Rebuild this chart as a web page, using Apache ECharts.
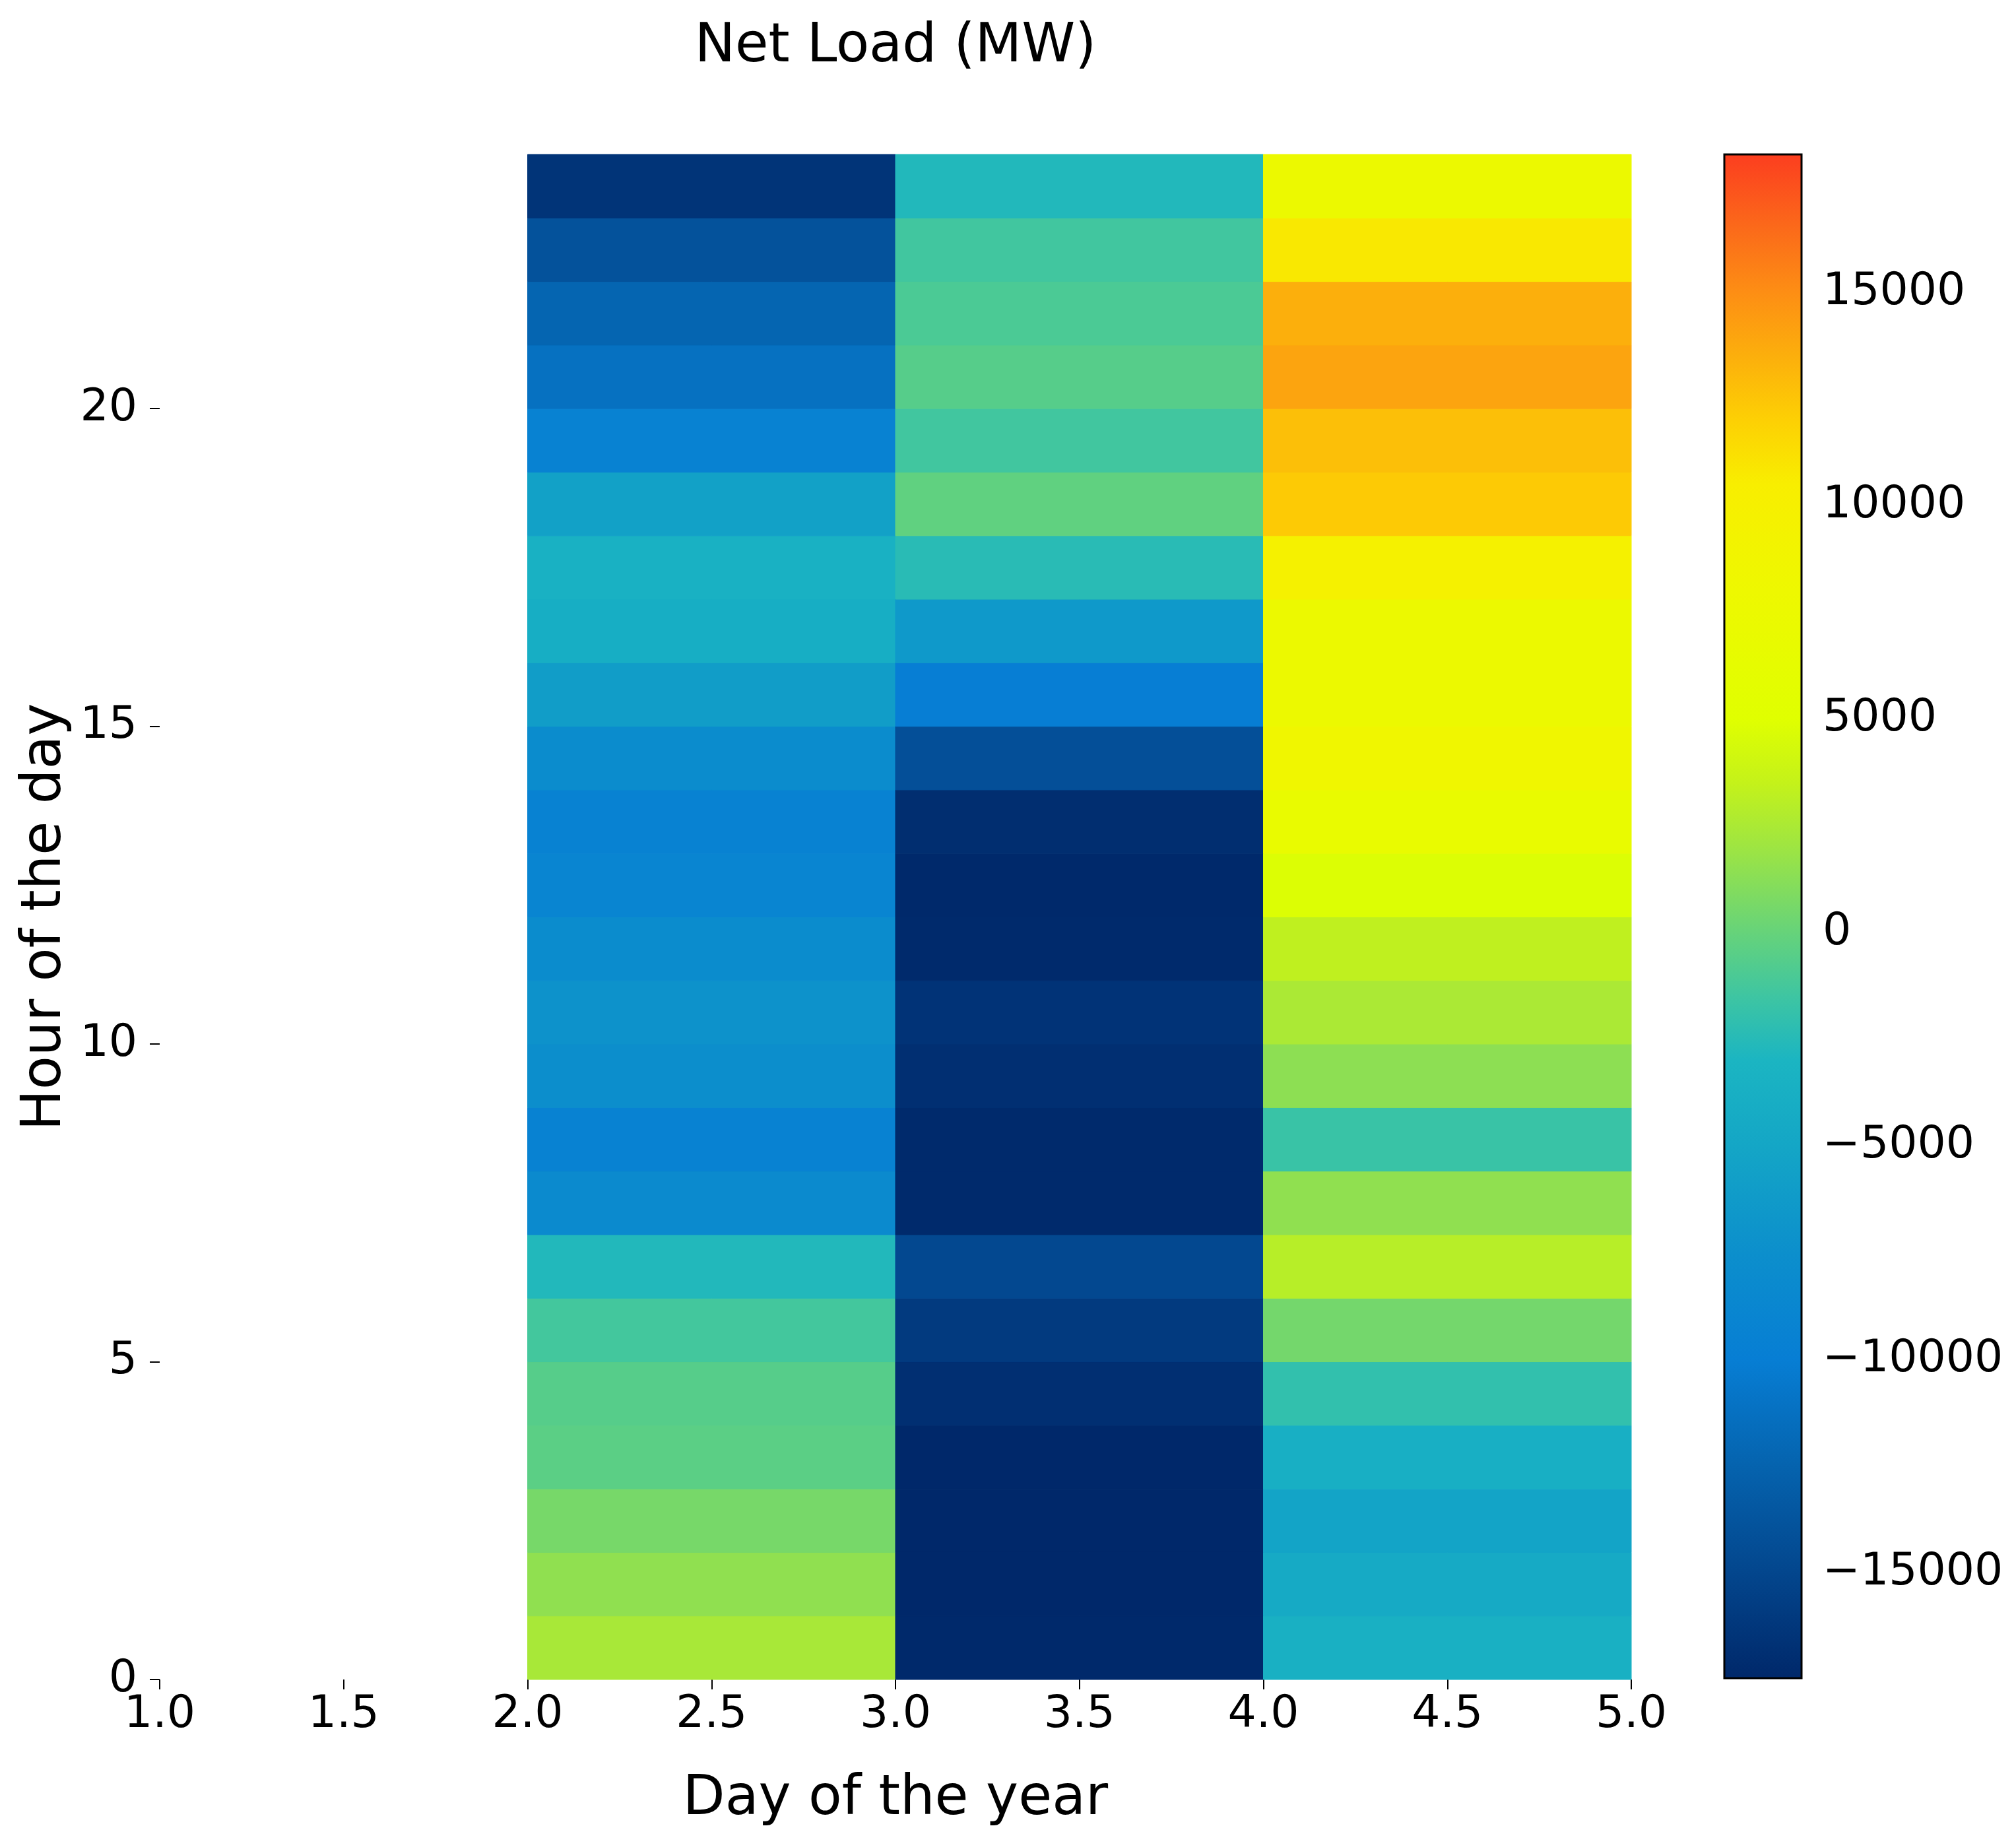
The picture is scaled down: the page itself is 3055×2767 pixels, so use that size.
<!DOCTYPE html>
<html>
<head>
<meta charset="utf-8">
<script src="https://cdn.jsdelivr.net/npm/echarts@6/dist/echarts.min.js"></script>
<style>
  html, body { margin: 0; padding: 0; background: #fff; }
  #chart { width: 3055px; height: 2767px; }
</style>
</head>
<body>
<div id="chart"></div>
<script>
// days shown (cells span day .. day+1)
const days = [2, 3, 4];
// hours 0..23
const hours = Array.from({ length: 24 }, (_, i) => i);
// net load in MW, hour 0 first
const day2 = [2400, 1500, 600, -400, -600, -1300, -2700, -8200, -9500, -7700, -7200, -8000,
  -9000, -9500, -8000, -6000, -4000, -3500, -5500, -9500, -11200, -12300, -14000, -16500];
const day3 = [-17400, -17450, -17450, -17450, -16900, -16000, -14800, -17300, -17300, -16900, -16600, -17300,
  -17400, -17000, -14200, -10000, -6500, -2400, -200, -1400, -600, -1000, -1400, -2700];
const day4 = [-3600, -4500, -5200, -3800, -2000, 500, 3000, 1500, -1700, 1400, 2500, 3300,
  4800, 7000, 8500, 7500, 7500, 9800, 12300, 12800, 14000, 13500, 10800, 7500];
const loads = [day2, day3, day4];

const xTicks = [1, 1.5, 2, 2.5, 3, 3.5, 4, 4.5, 5];
const yTicks = [0, 5, 10, 15, 20];
const cbTicks = [-15000, -10000, -5000, 0, 5000, 10000, 15000];
const cbMin = -17470, cbMax = 18230;

// colour map stops [value, colour]
const cmap = [
  [-17470, '#00286a'], [-15000, '#03468d'], [-12500, '#0563ae'], [-10000, '#077ed4'],
  [-7500, '#0c8fcc'], [-5000, '#14a6c6'], [-3000, '#1bb5c2'], [-1500, '#3ec5a2'],
  [0, '#66d37a'], [2000, '#9ee542'], [3500, '#c4f21a'], [5000, '#e0ff00'],
  [8000, '#eef800'], [10500, '#f8ee00'], [12000, '#fdd004'], [13500, '#fcaf0c'],
  [15000, '#fd8e14'], [16500, '#fb6a1a'], [18230, '#fc3e1f']
];

function hexRgb(h) { return [1, 3, 5].map(i => parseInt(h.substr(i, 2), 16)); }
function colorAt(v) {
  for (let i = 1; i < cmap.length; i++) {
    if (v <= cmap[i][0]) {
      const t = (v - cmap[i - 1][0]) / (cmap[i][0] - cmap[i - 1][0]);
      const a = hexRgb(cmap[i - 1][1]), b = hexRgb(cmap[i][1]);
      return 'rgb(' + a.map((c, k) => Math.round(c + (b[k] - c) * t)).join(',') + ')';
    }
  }
  return cmap[cmap.length - 1][1];
}
const rampColors = [];
for (let i = 0; i <= 120; i++) rampColors.push(colorAt(cbMin + (cbMax - cbMin) * i / 120));
const gradStops = cmap.map(s => ({ offset: (s[0] - cbMin) / (cbMax - cbMin), color: s[1] }));

const cells = [];
days.forEach((d, di) => hours.forEach(h => cells.push([d, h, loads[di][h]])));

const font = 'DejaVu Sans';
const chart = echarts.init(document.getElementById('chart'));
chart.setOption({
  backgroundColor: '#fff',
  animation: false,
  title: {
    text: 'Net Load (MW)', left: 1357, top: 31, textAlign: 'center', padding: 0,
    textStyle: { fontFamily: font, fontSize: 82, fontWeight: 'normal', color: '#000' }
  },
  grid: [
    { left: 242, top: 234, width: 2230, height: 2311, outerBoundsMode: 'none', containLabel: false },
    { left: 2613, top: 234, width: 117, height: 2309, show: true, z: 10, outerBoundsMode: 'none',
      containLabel: false, backgroundColor: 'transparent', borderColor: '#000', borderWidth: 3 }
  ],
  xAxis: [
    {
      type: 'value', min: 1, max: 5, interval: 0.5, gridIndex: 0,
      name: 'Day of the year', nameLocation: 'middle', nameGap: 141,
      nameTextStyle: { fontFamily: font, fontSize: 83, color: '#000' },
      axisLine: { show: false }, splitLine: { show: false },
      axisTick: { show: true, length: 15, lineStyle: { color: '#000', width: 2 } },
      axisLabel: { fontFamily: font, fontSize: 68, color: '#000', margin: 20,
        formatter: v => v.toFixed(1) }
    },
    { type: 'value', min: 0, max: 1, gridIndex: 1, show: false }
  ],
  yAxis: [
    {
      type: 'value', min: 0, max: 24, gridIndex: 0,
      name: 'Hour of the day', nameLocation: 'middle', nameGap: 128, nameRotate: 90,
      nameTextStyle: { fontFamily: font, fontSize: 83, color: '#000' },
      axisLine: { show: false }, splitLine: { show: false },
      axisTick: { show: true, length: 15, customValues: yTicks, lineStyle: { color: '#000', width: 2 } },
      axisLabel: { fontFamily: font, fontSize: 68, color: '#000', margin: 34, customValues: yTicks }
    },
    {
      type: 'value', min: cbMin, max: cbMax, gridIndex: 1, position: 'right',
      axisLine: { show: false }, splitLine: { show: false },
      axisTick: { show: true, length: 15, customValues: cbTicks, lineStyle: { color: '#000', width: 2 } },
      axisLabel: { fontFamily: font, fontSize: 68, color: '#000', margin: 32, customValues: cbTicks,
        formatter: v => String(v).replace('-', '\u2212') }
    }
  ],
  visualMap: {
    show: false, type: 'continuous', seriesIndex: 0, dimension: 2,
    min: cbMin, max: cbMax, inRange: { color: rampColors }
  },
  series: [
    {
      type: 'custom', xAxisIndex: 0, yAxisIndex: 0,
      encode: { x: 0, y: 1 },
      data: cells,
      renderItem: (params, api) => {
        const x = api.value(0), y = api.value(1);
        const p0 = api.coord([x, y + 1]);
        const p1 = api.coord([x + 1, y]);
        const c = api.visual('color');
        return {
          type: 'rect',
          shape: { x: p0[0], y: p0[1], width: p1[0] - p0[0], height: p1[1] - p0[1] },
          style: { fill: c, stroke: c, lineWidth: 1 }
        };
      }
    },
    {
      type: 'custom', xAxisIndex: 1, yAxisIndex: 1,
      data: [[0, cbMin, 1, cbMax]],
      renderItem: (params, api) => {
        const p0 = api.coord([api.value(0), api.value(3)]);
        const p1 = api.coord([api.value(2), api.value(1)]);
        return {
          type: 'rect',
          shape: { x: p0[0], y: p0[1], width: p1[0] - p0[0], height: p1[1] - p0[1] },
          style: { fill: new echarts.graphic.LinearGradient(0, 1, 0, 0, gradStops) }
        };
      }
    }
  ]
});
</script>
</body>
</html>
